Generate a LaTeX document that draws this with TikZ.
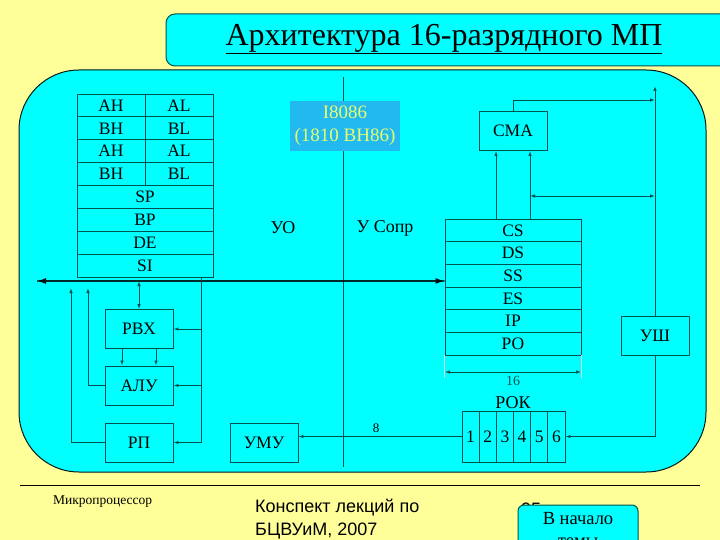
\documentclass[tikz,border=0pt]{standalone}
\usepackage{fontspec}
\setmainfont{Liberation Serif}
\newfontfamily\arialf{Liberation Sans}
\usetikzlibrary{arrows.meta,calc}
\definecolor{bgy}{RGB}{255,255,153}
\definecolor{cy}{RGB}{0,255,255}
\definecolor{lc}{RGB}{0,80,80}
\definecolor{ibox}{RGB}{34,184,240}
\definecolor{itext}{RGB}{230,255,110}
\tikzset{
  regbox/.style={draw=lc, line width=0.9pt, minimum height=22.9pt, inner sep=0pt, font=\fontsize{17.5}{19}\selectfont},
  segbox/.style={draw=lc, line width=0.9pt, minimum width=136pt, minimum height=22.67pt, inner sep=0pt, font=\fontsize{17.5}{19}\selectfont},
  unit/.style={draw=lc, line width=0.9pt, minimum width=68pt, minimum height=39pt, inner sep=0pt, font=\fontsize{17.5}{19}\selectfont},
  cell/.style={draw=lc, line width=0.9pt, minimum width=17.17pt, minimum height=51pt, inner sep=0pt, font=\fontsize{17.5}{19}\selectfont},
  conn/.style={draw=lc, line width=0.9pt},
  arr/.style={conn, -{Latex[length=5pt,width=3.5pt]}},
  darr/.style={conn, {Latex[length=5pt,width=3.5pt]}-{Latex[length=5pt,width=3.5pt]}},
  lbl/.style={inner sep=0pt, font=\fontsize{18}{20}\selectfont}
}
\begin{document}
\begin{tikzpicture}[x=1pt,y=-1pt]
\clip (0,0) rectangle (720,540);
\fill[bgy] (0,0) rectangle (720,540);
% title
\draw[lc, fill=cy, line width=1pt, rounded corners=9pt] (166,14) rectangle (735,66);
\node[lbl, font=\fontsize{32}{34}\selectfont] (title) at (444,39) {\underline{Архитектура 16-разрядного МП}};
% main box
\draw[fill=cy, draw=black!70!lc, line width=1pt, rounded corners=60pt] (19,70) rectangle (706,472);
% divider
\coordinate (dvt) at (343,77);
\coordinate (dvb) at (343,467);
\draw[conn] (dvt) -- (dvb);
% I8086
\node[fill=ibox, minimum width=110pt, minimum height=50pt, align=center, text=itext, font=\fontsize{19}{23}\selectfont] (ib) at (345,126) {I8086\\(1810 ВН86)};
\node[lbl] (uo) at (283,228) {УО};
\node[lbl] (usopr) at (385,228) {У Сопр};
% general registers
\foreach \i/\a/\b in {0/AH/AL,1/BH/BL,2/AH/AL,3/BH/BL}{
  \node[regbox, minimum width=68pt] (rl\i) at (111,{105.44+\i*22.875}) {\a};
  \node[regbox, minimum width=68pt] (rr\i) at (179,{105.44+\i*22.875}) {\b};
}
\foreach \i/\a in {4/SP,5/BP,6/DE,7/SI}{
  \node[regbox, minimum width=136pt] (r\i) at (145,{105.44+\i*22.875}) {\a};
}
% segment registers
\foreach \i/\a in {0/CS,1/DS,2/SS,3/ES,4/IP,5/РО}{
  \node[segbox] (s\i) at (513,{230.33+\i*22.67}) {\a};
}
% CMA, УШ
\node[unit] (cma) at (513,131) {СМА};
\node[unit] (ush) at (655,335.5) {УШ};
% left units
\node[unit] (rvx) at (139,329) {РВХ};
\node[unit] (alu) at (139,385.5) {АЛУ};
\node[unit] (rp) at (139,442.5) {РП};
\node[unit] (umu) at (264,442.5) {УМУ};
% ROK
\foreach \i in {1,...,6}{
  \node[cell] (c\i) at ({462+(\i-0.5)*17.17},436.5) {\i};
}
\node[lbl] (rok) at (513,403) {РОК};
% bus
\coordinate (busl) at (37,281);
\draw[line width=1.3pt, black!85!lc, -{Latex[length=9pt,width=6pt]}] ([yshift=-5.3pt]s2.west) -- (busl);
\draw[line width=1.3pt, black!85!lc, -{Latex[length=9pt,width=6pt]}] (busl) -- ([yshift=-5.3pt]s2.west);
% RVX connections
\draw[darr] (rvx.north |- busl) -- (rvx.north);
\draw[arr] ([xshift=-17pt]rvx.south) -- ([xshift=-17pt]alu.north);
\draw[arr] ([xshift=17pt]rvx.south) -- ([xshift=17pt]alu.north);
% control line from registers
\coordinate (ctop) at (201,277);
\coordinate (cbot) at (201,442.5);
\draw[conn] (ctop) -- (cbot);
\draw[arr] (rvx.east -| ctop) -- (rvx.east);
\draw[arr] (alu.east -| ctop) -- (alu.east);
\draw[arr] (cbot) -- (rp.east);
% feedback
\coordinate (fb1) at (88,288);
\coordinate (fb2) at (71,288);
\draw[arr] (alu.west) -| (fb1);
\draw[arr] (rp.west) -| (fb2);
% ROK -> UMU
\draw[arr] (c1.west) -- (umu.east |- c1.west);
\node[lbl, font=\fontsize{13}{15}\selectfont] (eight) at (376,428) {8};
% CS -> CMA
\draw[arr] ([xshift=-17pt]s0.north) -- ([xshift=-17pt]cma.south);
\draw[arr] ([xshift=17pt]s0.north) -- ([xshift=17pt]cma.south);
% right bus
\coordinate (rtop) at (655,86);
\coordinate (ra) at (655,100);
\coordinate (rb) at (655,196);
\draw[arr] (ush.north) -- (rtop);
\draw[arr] (cma.north) |- (ra);
\draw[darr] ([xshift=17pt]s0.north |- rb) -- (rb);
\draw[arr] (ush.south) |- (c6.east);
% dimension 16
\draw[gray!25, line width=0.6pt] (s5.south west) -- ++(0,23);
\draw[gray!25, line width=0.6pt] (s5.south east) -- ++(0,23);
\coordinate (d1) at (445,372);
\coordinate (d2) at (581,372);
\draw[darr, line width=0.7pt] (d1) -- (d2);
\node[lbl, font=\fontsize{14}{15}\selectfont, text=lc] (sixteen) at (513,381) {16};
% footer
\draw[black, line width=1pt] (20,485) -- (700,485);
\node[lbl, anchor=west, font=\fontsize{13.5}{15}\selectfont] (mp) at (53,502) {Микропроцессор};
\node[inner sep=0pt, anchor=north west, align=left, font=\arialf\fontsize{18}{23}\selectfont] (kons) at (255,499) {Конспект лекций по\\БЦВУиМ, 2007};
\node[inner sep=0pt, anchor=west, font=\arialf\fontsize{18}{20}\selectfont] (pg) at (521,509) {95};
\draw[lc, fill=cy, line width=1pt, rounded corners=6pt] (518,505) rectangle (638,560);
\node[lbl, align=center, font=\fontsize{18.5}{22}\selectfont] (nach) at (578,530) {В начало\\темы};
\end{tikzpicture}
\end{document}
